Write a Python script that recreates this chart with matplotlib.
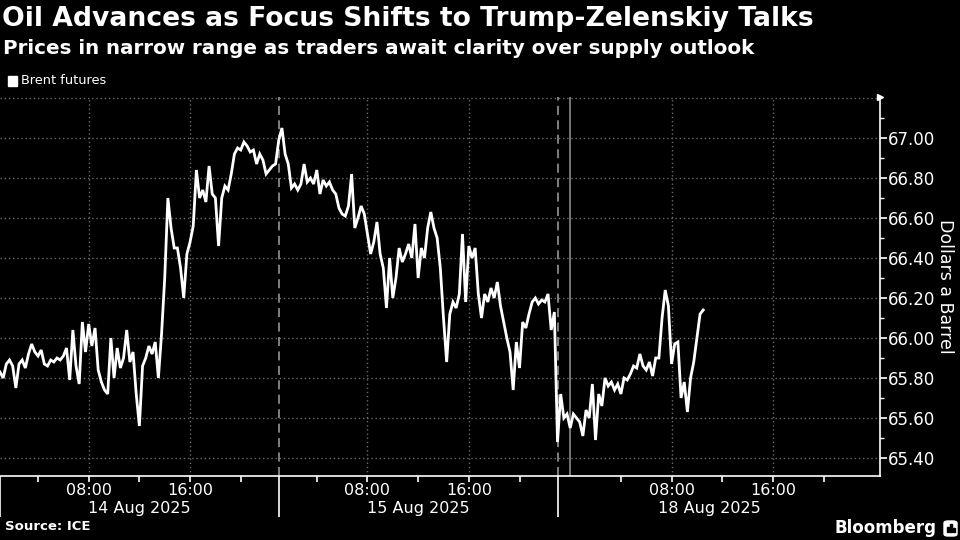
import matplotlib
matplotlib.use("Agg")
import matplotlib.pyplot as plt
import numpy as np
import pandas as pd
from matplotlib.patches import Rectangle, FancyBboxPatch

# ---------------- data ----------------
title = "Oil Advances as Focus Shifts to Trump-Zelenskiy Talks"
subtitle = "Prices in narrow range as traders await clarity over supply outlook"
series_name = "Brent futures"
source = "Source: ICE"
y_label = "Dollars a Barrel"

# 15-minute Brent prices for each trading session
session_starts = ["2025-08-14 01:00", "2025-08-15 01:00", "2025-08-17 23:00"]
session_lengths_h = [22, 22, 24]
session_dates = ["14 Aug 2025", "15 Aug 2025", "18 Aug 2025"]

prices_aug14 = [65.83, 65.80, 65.87, 65.89, 65.86, 65.75, 65.87, 65.89, 65.85, 65.92,
                65.97, 65.93, 65.91, 65.94, 65.87, 65.86, 65.89, 65.88, 65.90, 65.89,
                65.91, 65.95, 65.79, 66.04, 65.86, 65.77, 66.08, 65.93, 66.07, 65.96,
                66.05, 65.84, 65.78, 65.74, 65.72, 66.00, 65.80, 65.95, 65.85, 65.90,
                66.04, 65.88, 65.93, 65.72, 65.56, 65.86, 65.90, 65.96, 65.92, 65.98,
                65.80, 66.02, 66.30, 66.70, 66.55, 66.45, 66.45, 66.35, 66.20, 66.42,
                66.48, 66.56, 66.84, 66.70, 66.74, 66.68, 66.86, 66.72, 66.70, 66.46,
                66.70, 66.76, 66.74, 66.82, 66.92, 66.95, 66.94, 66.98, 66.96, 66.93,
                66.94, 66.87, 66.92, 66.89, 66.82, 66.84, 66.86, 66.87]
prices_aug15 = [66.99, 67.05, 66.92, 66.87, 66.75, 66.77, 66.74, 66.77, 66.87, 66.78,
                66.80, 66.77, 66.84, 66.72, 66.79, 66.76, 66.78, 66.74, 66.72, 66.65,
                66.62, 66.61, 66.66, 66.82, 66.55, 66.60, 66.66, 66.62, 66.52, 66.42,
                66.48, 66.58, 66.42, 66.35, 66.15, 66.40, 66.20, 66.30, 66.45, 66.38,
                66.42, 66.47, 66.40, 66.57, 66.30, 66.45, 66.40, 66.55, 66.63, 66.55,
                66.50, 66.35, 66.10, 65.88, 66.12, 66.18, 66.15, 66.22, 66.52, 66.18,
                66.46, 66.40, 66.45, 66.22, 66.10, 66.22, 66.18, 66.25, 66.20, 66.28,
                66.16, 66.08, 66.00, 65.93, 65.74, 65.98, 65.85, 66.08, 66.05, 66.12,
                66.18, 66.20, 66.17, 66.19, 66.18, 66.22, 66.04, 66.13]
prices_aug18 = [65.48, 65.72, 65.60, 65.62, 65.55, 65.62, 65.60, 65.58, 65.51, 65.64,
                65.60, 65.77, 65.49, 65.72, 65.66, 65.80, 65.76, 65.78, 65.74, 65.77,
                65.72, 65.80, 65.79, 65.82, 65.86, 65.85, 65.92, 65.86, 65.84, 65.88,
                65.81, 65.90, 65.90, 66.10, 66.24, 66.16, 65.87, 65.97, 65.98, 65.70,
                65.78, 65.63, 65.80, 65.88, 66.00, 66.12, 66.14]
sessions = [prices_aug14, prices_aug15, prices_aug18]

y_ticks = [65.40, 65.60, 65.80, 66.00, 66.20, 66.40, 66.60, 66.80, 67.00]
x_tick_hours = ["04:00", "08:00", "12:00", "16:00", "20:00"]
x_labelled = ["08:00", "16:00"]

# ---------------- build compressed trading-time axis ----------------
xs, ys = [], []
offsets = np.cumsum([0] + session_lengths_h[:-1])
for start, off, vals in zip(session_starts, offsets, sessions):
    t0 = pd.Timestamp(start)
    ts = pd.date_range(t0, periods=len(vals), freq="15min")
    xs.extend(off + (ts - t0) / pd.Timedelta(hours=1))
    ys.extend(vals)

def hour_pos(sess_idx, hhmm):
    t0 = pd.Timestamp(session_starts[sess_idx])
    day = t0.normalize()
    if t0.hour > 12:
        day = day + pd.Timedelta(days=1)
    t = day + pd.Timedelta(hhmm + ":00")
    return offsets[sess_idx] + (t - t0) / pd.Timedelta(hours=1)

# ---------------- figure ----------------
W, H = 960, 540
fig = plt.figure(figsize=(W / 100, H / 100), dpi=100, facecolor="black")
ax_l, ax_r, ax_t, ax_b = 0, 880, 97, 476
ax = fig.add_axes([ax_l / W, 1 - ax_b / H, (ax_r - ax_l) / W, (ax_b - ax_t) / H])
ax.set_facecolor("black")

total_h = sum(session_lengths_h)
ax.set_xlim(0, total_h + 1.45)
ax.set_ylim(65.31, 67.205)

# horizontal grid
for yv in y_ticks + [67.20]:
    ax.axhline(yv, color="#6a6a6a", lw=1.0, ls=(0, (1, 2)), zorder=1)

# vertical grid
minor_pos, minor_lab = [], []
for i in range(len(sessions)):
    for hh in x_tick_hours:
        p = hour_pos(i, hh)
        minor_pos.append(p)
        minor_lab.append(hh if hh in x_labelled else "")
        if hh in x_labelled:
            ax.axvline(p, color="#6a6a6a", lw=1.0, ls=(0, (1, 2)), zorder=1)
for off in offsets[1:]:
    ax.axvline(off, color="#8a8a8a", lw=1.3, ls=(0, (5, 3)), zorder=1)
# midnight Monday
ax.axvline(hour_pos(2, "00:00"), color="#8a8a8a", lw=1.2, zorder=1)

ax.plot(xs, ys, color="white", lw=2.0, zorder=3, solid_joinstyle="miter")

# spines
for s in ["left", "top"]:
    ax.spines[s].set_visible(False)
for s in ["right", "bottom"]:
    ax.spines[s].set_color("white")
    ax.spines[s].set_linewidth(1.2)

# x ticks
ax.set_xticks(list(offsets))
ax.set_xticklabels([""] * len(offsets))
ax.tick_params(axis="x", which="major", length=29.5, width=1.2, color="white")
ax.set_xticks(minor_pos, minor=True)
ax.set_xticklabels(minor_lab, minor=True)
ax.tick_params(axis="x", which="minor", length=4, width=1.2, color="white",
               labelcolor="white", labelsize=11.5, pad=1)

# date labels
for i, d in enumerate(session_dates):
    cx = offsets[i] + session_lengths_h[i] / 2
    ax.text(cx, -32 / (ax_b - ax_t), d, transform=ax.get_xaxis_transform(),
            ha="center", va="center", color="white", fontsize=11.5)

# y ticks
ax.yaxis.tick_right()
ax.yaxis.set_label_position("right")
ax.set_yticks(y_ticks)
ax.set_yticklabels([f"{v:.2f}" for v in y_ticks])
ax.set_yticks([v + 0.1 for v in y_ticks], minor=True)
ax.tick_params(axis="y", which="major", length=5, width=1.2, color="white",
               labelcolor="white", labelsize=12, pad=1)
ax.tick_params(axis="y", which="minor", length=3, width=1.0, color="white")
ax.set_ylabel(y_label, color="white", fontsize=12.5, rotation=270, labelpad=13)
ax.plot([1], [1], marker=">", color="white", ms=4, transform=ax.transAxes, clip_on=False)

# texts
fig.text(2 / W, 1 - 6 / H, title, color="white", fontsize=19.2, fontweight="bold",
         ha="left", va="top")
fig.text(3 / W, 1 - 39 / H, subtitle, color="white", fontsize=14.3, fontweight="bold",
         ha="left", va="top")
fig.patches.append(Rectangle((8 / W, 1 - 86 / H), 9 / W, 10 / H, color="white",
                             transform=fig.transFigure))
fig.text(21 / W, 1 - 81 / H, series_name, color="white", fontsize=9.3,
         ha="left", va="center")
fig.text(5 / W, 1 - 527 / H, source, color="white", fontsize=9.5, fontweight="bold",
         ha="left", va="center")
fig.text(936 / W, 1 - 528 / H, "Bloomberg", color="white", fontsize=12, fontweight="bold",
         ha="right", va="center")
fig.patches.append(FancyBboxPatch((944 / W, 1 - 536 / H), 13 / W, 15 / H,
                                  boxstyle="round,pad=0,rounding_size=0.004",
                                  color="white", transform=fig.transFigure))
for bx, bh in [(947, 5), (950, 8), (953, 4)]:
    fig.patches.append(Rectangle((bx / W, 1 - 532 / H), 1.6 / W, bh / H, color="black",
                                 transform=fig.transFigure))

fig.savefig("out.png", dpi=100, facecolor="black")
